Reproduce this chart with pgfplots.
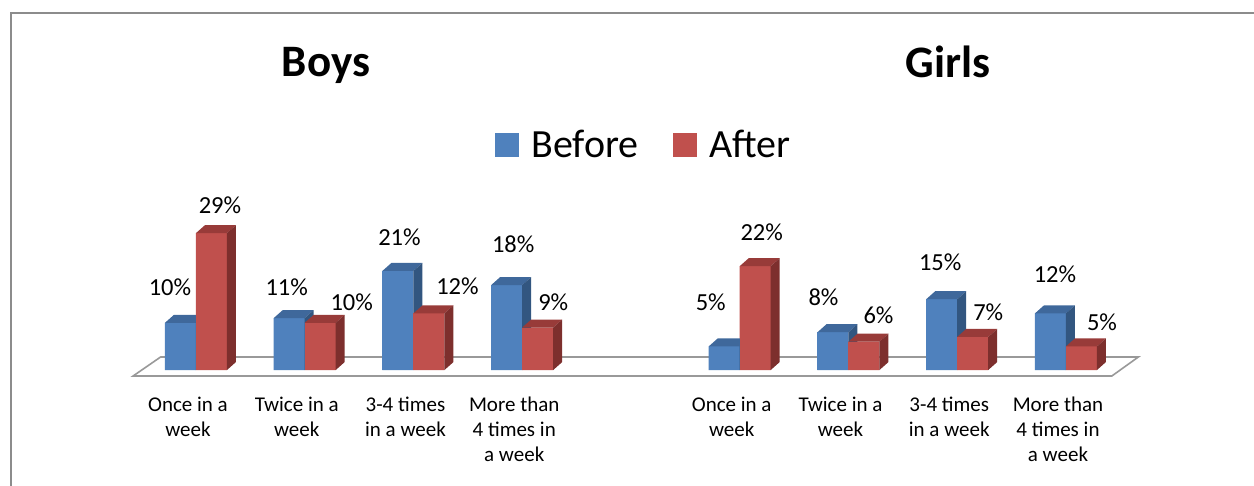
\documentclass[border=0pt]{standalone}
\usepackage{pgfplots}
\pgfplotsset{compat=1.18}
\usepackage{pgfplotstable}
\usepackage{fontspec}
\setmainfont{Carlito}
\definecolor{bluefront}{HTML}{4F81BD}
\definecolor{bluetop}{HTML}{3F689B}
\definecolor{blueside}{HTML}{325680}
\definecolor{redfront}{HTML}{C0504D}
\definecolor{redtop}{HTML}{983B39}
\definecolor{redside}{HTML}{7D2F2D}
\definecolor{framegray}{HTML}{8C8C8C}
\definecolor{floorgray}{HTML}{999999}

% 3D bar faces drawn at the top-centre of each group; x offset a = left edge of bar front
\newcommand\barfaces[4]{% #1 left edge (pt), #2 front, #3 top, #4 side
  \pgfmathsetlengthmacro\hh{\val*4.72pt}%
  \pgfsetfillcolor{#2}%
  \pgfpathrectanglecorners{\pgfpoint{#1pt}{0pt}}{\pgfpoint{#1pt+31pt}{-\hh}}%
  \pgfusepathqfill
  \pgfsetfillcolor{#3}%
  \pgfpathmoveto{\pgfpoint{#1pt}{0pt}}%
  \pgfpathlineto{\pgfpoint{#1pt+31pt}{0pt}}%
  \pgfpathlineto{\pgfpoint{#1pt+40pt}{8pt}}%
  \pgfpathlineto{\pgfpoint{#1pt+9pt}{8pt}}%
  \pgfpathclose
  \pgfusepathqfill
  \pgfsetfillcolor{#4}%
  \pgfpathmoveto{\pgfpoint{#1pt+31pt}{0pt}}%
  \pgfpathlineto{\pgfpoint{#1pt+40pt}{8pt}}%
  \pgfpathlineto{\pgfpoint{#1pt+40pt}{8pt-\hh}}%
  \pgfpathlineto{\pgfpoint{#1pt+31pt}{-\hh}}%
  \pgfpathclose
  \pgfusepathqfill
}
\pgfdeclareplotmark{bluefaces}{\barfaces{-31}{bluefront}{bluetop}{blueside}}
\pgfdeclareplotmark{redfaces}{\barfaces{0}{redfront}{redtop}{redside}}

\pgfplotstableread{
x v lx ly
0 10 -26 36
1 11 -18 31
2 21 -14 34
3 18 -9 41
5 5 -29 44
6 8 -25 35
7 15 -17 37
8 12 -11 39
}\before

\pgfplotstableread{
x v lx ly
0 29 24 28
1 10 47 21
2 12 44 27
3 9 31 25
5 22 22 34
6 6 30 26
7 7 31 25
8 5 36 24
}\after

\begin{document}
\begin{tikzpicture}
\useasboundingbox (0pt,0pt) rectangle (1254pt,485pt);
\draw[framegray, line width=2pt] (11pt,-5pt) -- (11pt,472pt) -- (1265pt,472pt);
\node[font=\fontsize{45}{54}\selectfont\bfseries, anchor=base] at (326pt,408pt) {Boys};
\node[font=\fontsize{45}{54}\selectfont\bfseries, anchor=base] at (948pt,407pt) {Girls};
\begin{axis}[
  at={(141.6pt,115pt)}, anchor=south west,
  x=108.75pt, y=4.72pt,
  xmin=-0.5, xmax=8.5, ymin=0, ymax=30,
  clip=false,
  axis x line*=bottom, axis y line=none,
  x axis line style={draw=none},
  major tick length=0pt,
  xtick style={draw=none},
  ytick=\empty,
  xtick={0,1,2,3,5,6,7,8},
  xticklabels={{Once in a\\week},{Twice in a\\week},{3-4 times\\in a week},{More than\\4 times in\\a week},{Once in a\\week},{Twice in a\\week},{3-4 times\\in a week},{More than\\4 times in\\a week}},
  xticklabel style={font=\fontsize{21}{25}\selectfont, align=center, anchor=north, inner sep=0pt, yshift=-27pt, xshift=-8pt},
  /pgf/number format/assume math mode=true,
  legend style={at={(0.5123,1.589)}, anchor=center, draw=none, fill=none,
    font=\fontsize{40}{48}\selectfont, legend columns=2,
    nodes={inner sep=0pt},
    /tikz/every even column/.append style={column sep=35pt}},
  facestyle/.style={forget plot, only marks, mark=#1,
    point meta=explicit,
    visualization depends on={\thisrow{v} \as \val},
    visualization depends on={\thisrow{lx} \as \lx},
    visualization depends on={\thisrow{ly} \as \ly},
    nodes near coords={\pgfmathprintnumber{\pgfplotspointmeta}\%},
    every node near coord/.append style={font=\fontsize{24.5}{29}\selectfont, anchor=center, inner sep=0pt, xshift=\lx pt, yshift=\ly pt, text=black}},
]
\draw[floorgray, line width=1.6pt, fill=white]
  ([shift={(-8.5pt,-6pt)}]axis cs:-0.5,0) -- ([shift={(-8.5pt,-6pt)}]axis cs:8.5,0)
  -- ([shift={(18pt,13pt)}]axis cs:8.5,0) -- ([shift={(19pt,13pt)}]axis cs:-0.5,0) -- cycle;

\addplot[ybar, bar width=31pt, bar shift=-15.5pt, fill=bluefront, draw=none,
  legend image code/.code={\fill[bluefront] (0pt,-12pt) rectangle (24pt,12pt); \path (36pt,0pt);}]
  table[x=x, y=v] {\before};
\addlegendentry{Before}

\addplot[facestyle=bluefaces] table[x=x, y=v, meta=v] {\before};

\addplot[ybar, bar width=31pt, bar shift=15.5pt, fill=redfront, draw=none,
  legend image code/.code={\fill[redfront] (0pt,-12pt) rectangle (24pt,12pt); \path (36pt,0pt);}]
  table[x=x, y=v] {\after};
\addlegendentry{After}

\addplot[facestyle=redfaces] table[x=x, y=v, meta=v] {\after};
\end{axis}
\end{tikzpicture}
\end{document}
